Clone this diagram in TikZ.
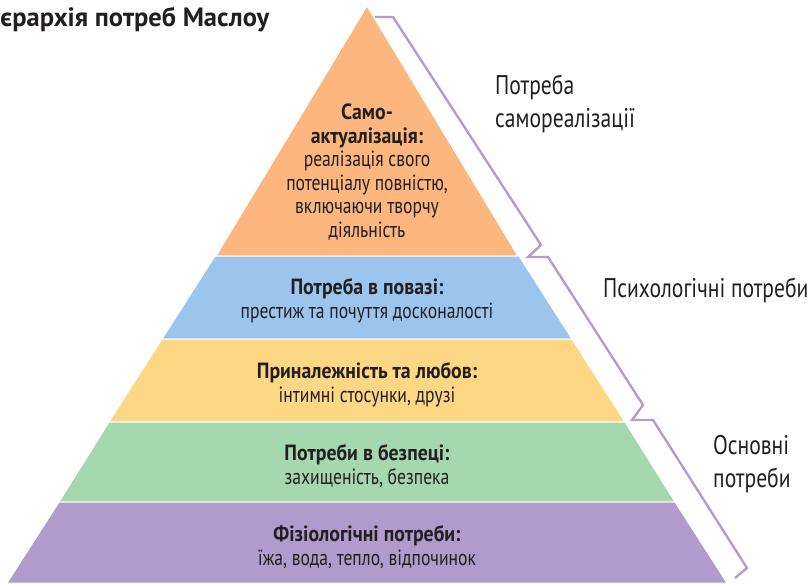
\documentclass[tikz,border=0pt]{standalone}
\usepackage{fontspec}
\setmainfont{PT Sans}
\newfontfamily\narrowfont[FakeStretch=0.8]{PT Sans}
\newfontfamily\boldnarrowfont[FakeStretch=0.9]{PT Sans Bold}
\usetikzlibrary{positioning}

\definecolor{tierorange}{HTML}{FDB67D}
\definecolor{tierblue}{HTML}{9CC5EE}
\definecolor{tieryellow}{HTML}{FED784}
\definecolor{tiergreen}{HTML}{A5D8AE}
\definecolor{tierpurple}{HTML}{B19BCD}
\definecolor{bracketpurple}{HTML}{B49CD2}
\definecolor{textgray}{HTML}{231F20}

\newcommand{\tierhead}[1]{{\boldnarrowfont #1}}

\begin{document}
\begin{tikzpicture}
		[x=1pt, y=-1pt,
		tier/.style={draw=white, line width=1pt},
		tiertext/.style={align=center, inner sep=0pt, text=textgray, font=\narrowfont\fontsize{22}{23.5}\selectfont},
		sidetext/.style={align=left, inner sep=0pt, anchor=west, text=textgray, font=\narrowfont\fontsize{27}{33}\selectfont},
		bracketline/.style={draw=bracketpurple, line width=2.4pt}]

		\useasboundingbox (0,0) rectangle (812,584);

		% tiers %
		\path[tier, fill=tierorange] (367,6) -- (518,256) -- (216,256) -- cycle;
		\path[tier, fill=tierblue] (215,256) -- (519,256) -- (572,339) -- (162,339) -- cycle;
		\path[tier, fill=tieryellow] (162,339) -- (572,339) -- (625,422) -- (109,422) -- cycle;
		\path[tier, fill=tiergreen] (109,422) -- (625,422) -- (675,502) -- (59,502) -- cycle;
		\path[tier, fill=tierpurple] (59,502) -- (675,502) -- (727,583) -- (7,583) -- cycle;

		% bracket %
		\draw[bracketline] (375,17) -- (393,17) -- (541,245) -- (528,257) -- (548,257)
			-- (643,405) -- (632,420) -- (653,420) -- (747,568) -- (735,578);

		% nodes %
		\node[anchor=base west, inner sep=0pt, text=textgray, font=\bfseries\fontsize{26.5}{30}\selectfont] (title) at (0,26) {єрархія потреб Маслоу};

		\node[tiertext] (selfact) at (367,172) {\tierhead{Само-}\\\tierhead{актуалізація:}\\реалізація свого\\потенціалу повністю,\\включаючи творчу\\діяльність};
		\node[tiertext] (esteem) at (367,301) {\tierhead{Потреба в повазі:}\\престиж та почуття досконалості};
		\node[tiertext] (love) at (367,385) {\tierhead{Приналежність та любов:}\\інтимні стосунки, друзі};
		\node[tiertext] (safety) at (367,466) {\tierhead{Потреби в безпеці:}\\захищеність, безпека};
		\node[tiertext] (physio) at (367,547) {\tierhead{Фізіологічні потреби:}\\їжа, вода, тепло, відпочинок};

		\node[sidetext] (selfneed) at (495,104) {Потреба\\самореалізації};
		\node[sidetext, anchor=base west] (psychneed) at (603,297) {Психологічні потреби};
		\node[sidetext] (basicneed) at (713,464) {Основні\\потреби};

\end{tikzpicture}
\end{document}
